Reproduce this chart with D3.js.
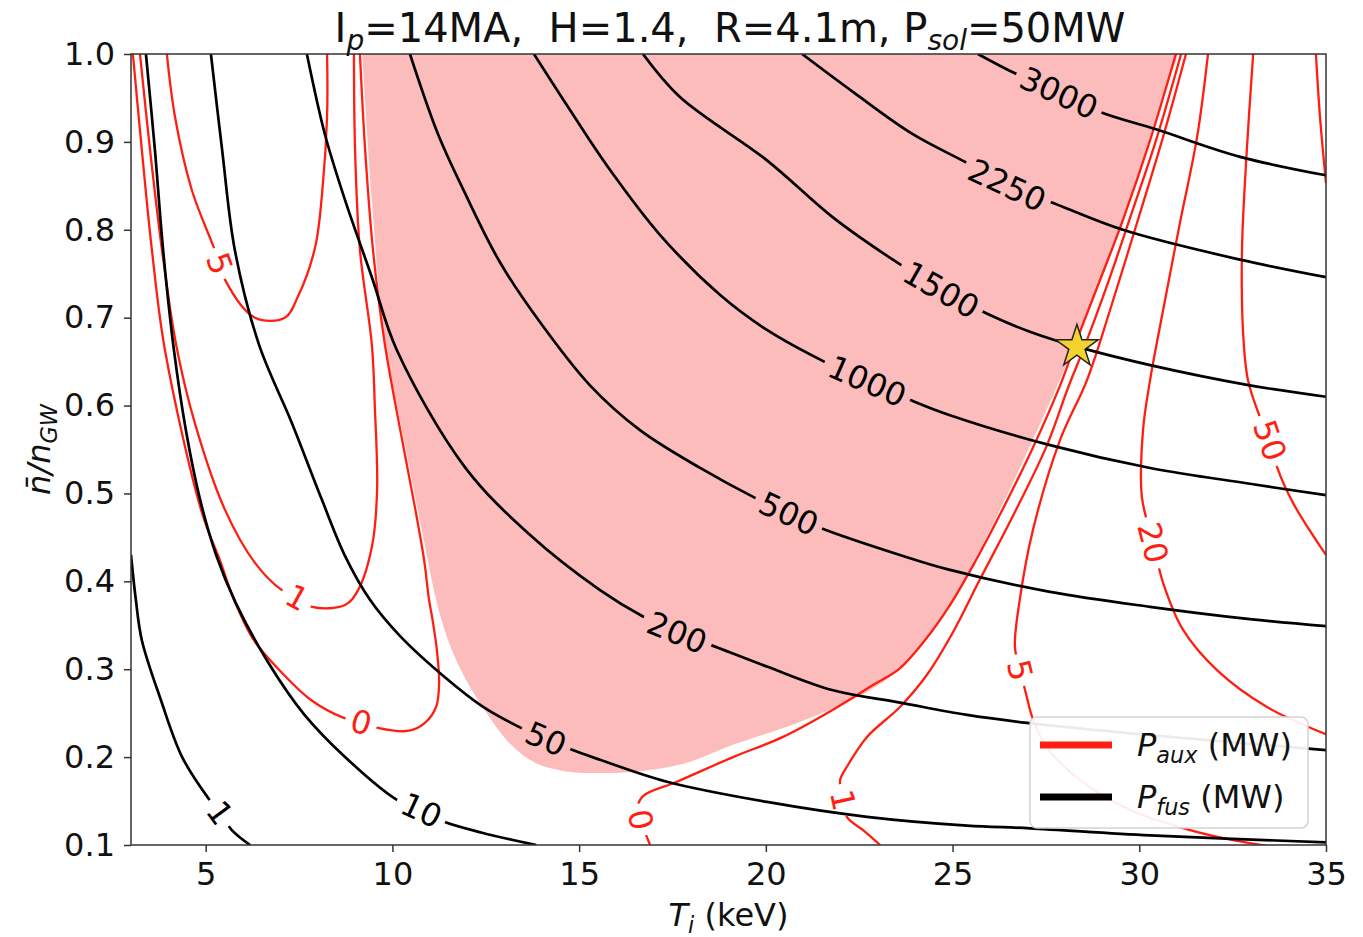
<!DOCTYPE html>
<html>
<head>
<meta charset="utf-8">
<script src="https://cdn.jsdelivr.net/npm/d3@7"></script>
<style>
body { margin: 0; background: #fff; }
text { font-family: "DejaVu Sans", sans-serif; }
</style>
</head>
<body>
<svg width="1363" height="937"></svg>
<script>
// ---- data (Ti in keV, n/nGW) ----
const xTicks = [5, 10, 15, 20, 25, 30, 35];
const yTicks = [0.1, 0.2, 0.3, 0.4, 0.5, 0.6, 0.7, 0.8, 0.9, 1.0];

// fusion power contours (MW)
const pfusLevels = ['1', '10', '50', '200', '500', '1000', '1500', '2250', '3000'];
const pfus1 = [[3.0,0.43],[3.13,0.379],[3.29,0.333],[3.80,0.265],[4.37,0.200],[5.04,0.155],[5.38,0.137],[5.70,0.117],[6.19,0.100]];
const pfus10 = [[3.40,1.0],[3.64,0.891],[3.86,0.777],[4.15,0.663],[4.47,0.572],[4.85,0.493],[5.28,0.430],[5.81,0.375],[6.67,0.308],[7.63,0.249],[8.76,0.199],[10.10,0.152],[10.77,0.140],[11.35,0.127],[12.40,0.114],[13.85,0.100]];
const pfus50 = [[5.14,1.0],[5.44,0.891],[5.78,0.777],[6.43,0.669],[7.31,0.580],[8.11,0.493],[8.73,0.429],[9.40,0.379],[10.20,0.338],[11.43,0.290],[12.40,0.258],[13.36,0.235],[14.11,0.221],[14.70,0.210],[15.56,0.197],[17.35,0.172],[20.03,0.149],[22.71,0.132],[25.39,0.122],[27.07,0.119],[30.29,0.111],[35.0,0.103]];
const pfus200 = [[7.71,1.0],[8.19,0.909],[8.73,0.834],[9.45,0.746],[10.12,0.663],[11.94,0.530],[13.68,0.453],[15.56,0.390],[16.71,0.360],[17.62,0.342],[18.50,0.328],[20.03,0.303],[21.80,0.276],[23.59,0.262],[25.39,0.248],[26.99,0.239],[30.29,0.225],[35.0,0.208]];
const pfus500 = [[10.47,1.0],[11.22,0.909],[11.94,0.842],[12.88,0.763],[13.95,0.695],[15.29,0.623],[16.63,0.572],[18.24,0.529],[19.71,0.495],[20.62,0.477],[21.45,0.461],[23.59,0.430],[24.93,0.413],[27.61,0.388],[30.29,0.371],[32.96,0.357],[35.0,0.349]];
const pfus1000 = [[13.79,1.0],[14.76,0.936],[15.83,0.868],[17.17,0.794],[18.77,0.726],[20.03,0.686],[21.56,0.650],[22.71,0.628],[23.89,0.606],[24.93,0.589],[27.61,0.555],[30.29,0.529],[32.96,0.511],[35.0,0.498]];
const pfus1500 = [[16.71,1.0],[17.70,0.951],[20.03,0.879],[21.77,0.815],[23.33,0.768],[24.69,0.732],[26.00,0.703],[27.07,0.684],[28.33,0.667],[30.29,0.646],[32.96,0.623],[35.0,0.610]];
const pfus2250 = [[20.97,1.0],[22.36,0.956],[23.89,0.910],[25.39,0.876],[26.46,0.851],[27.61,0.832],[29.56,0.800],[32.70,0.766],[35.0,0.746]];
const pfus3000 = [[25.68,1.0],[26.67,0.978],[27.85,0.956],[28.95,0.934],[30.47,0.914],[32.70,0.883],[35.0,0.862]];
const pfusLines = [pfus1, pfus10, pfus50, pfus200, pfus500, pfus1000, pfus1500, pfus2250, pfus3000];
const pfusLabelAt = [[5.38,0.137],[10.77,0.140],[14.11,0.221],[17.62,0.342],[20.62,0.477],[22.71,0.628],[24.69,0.732],[26.46,0.851],[27.85,0.956]];

// auxiliary power contours (MW)
const paux0Left = [[3.05,1.0],[3.29,0.891],[3.56,0.777],[3.91,0.663],[4.90,0.478],[5.38,0.424],[5.76,0.379],[6.29,0.333],[7.04,0.296],[7.82,0.265],[8.68,0.245],[9.16,0.240],[9.64,0.233],[10.44,0.230],[10.87,0.239],[11.17,0.257],[11.25,0.284],[11.19,0.322],[11.06,0.360],[10.98,0.379],[10.85,0.424],[10.60,0.485],[10.26,0.561],[9.80,0.669],[9.48,0.777],[9.27,0.891],[9.13,1.0]];
const paux1Left = [[3.24,1.0],[3.51,0.891],[3.83,0.777],[4.21,0.669],[4.71,0.580],[5.52,0.481],[6.32,0.421],[7.04,0.390],[7.45,0.382],[7.85,0.371],[8.73,0.373],[9.08,0.390],[9.45,0.439],[9.59,0.504],[9.53,0.598],[9.45,0.669],[9.13,0.777],[9.00,0.891],[8.97,1.0]];
const paux5Left = [[3.96,1.0],[4.18,0.928],[4.63,0.845],[5.17,0.785],[5.38,0.762],[5.52,0.743],[6.32,0.700],[7.12,0.700],[7.47,0.724],[7.93,0.780],[8.14,0.853],[8.25,0.928],[8.25,1.0]];
const paux0Right = [[16.90,0.100],[16.68,0.125],[16.58,0.145],[16.72,0.156],[17.62,0.172],[19.12,0.200],[20.46,0.223],[21.80,0.254],[22.87,0.282],[23.59,0.301],[24.26,0.333],[24.93,0.373],[25.60,0.422],[26.27,0.476],[27.15,0.552],[27.88,0.623],[28.33,0.675],[28.95,0.743],[29.56,0.811],[30.29,0.902],[30.98,1.0]];
const paux1Right = [[23.06,0.100],[22.66,0.115],[22.17,0.132],[22.07,0.151],[21.99,0.174],[22.17,0.189],[22.71,0.223],[23.59,0.257],[24.32,0.294],[25.01,0.342],[25.73,0.402],[26.54,0.468],[27.53,0.555],[28.09,0.620],[28.55,0.669],[29.14,0.737],[29.78,0.817],[30.45,0.902],[31.12,1.0]];
const paux5Right = [[31.25,1.0],[30.64,0.906],[29.94,0.808],[29.22,0.709],[28.60,0.629],[27.88,0.561],[27.15,0.458],[26.81,0.382],[26.67,0.325],[26.81,0.299],[26.99,0.268],[27.13,0.246],[27.48,0.214],[28.41,0.174],[29.75,0.140],[31.36,0.117],[32.96,0.102],[33.63,0.098]];
const paux20 = [[31.84,1.0],[31.55,0.906],[31.09,0.808],[30.64,0.709],[30.29,0.629],[30.10,0.572],[30.07,0.496],[30.37,0.444],[30.64,0.398],[31.17,0.345],[32.08,0.299],[33.42,0.257],[35.0,0.226]];
const paux50 = [[33.05,1.0],[32.88,0.891],[32.75,0.777],[32.78,0.683],[32.91,0.629],[33.23,0.587],[33.50,0.561],[33.69,0.530],[34.12,0.489],[35.0,0.430]];
const paux100 = [[34.73,1.0],[34.84,0.928],[35.0,0.853]];
const pauxLines = [paux0Left, paux1Left, paux5Left, paux0Right, paux1Right, paux5Right, paux20, paux50, paux100];
const pauxLabelText = ['0', '1', '5', '0', '1', '5', '20', '50', ''];
const pauxLabelAt = [[9.16,0.240],[7.45,0.382],[5.38,0.762],[16.62,0.129],[22.12,0.151],[26.81,0.299],[30.37,0.444],[33.50,0.561],null];

// shaded operating region edge
const regionEdge = [[9.19,1.0],[9.45,0.834],[9.80,0.669],[10.20,0.584],[10.52,0.515],[10.87,0.441],[11.17,0.379],[11.49,0.333],[11.92,0.292],[12.51,0.251],[13.18,0.214],[13.85,0.193],[14.78,0.183],[15.56,0.182],[16.63,0.184],[17.84,0.193],[19.12,0.214],[20.91,0.240],[22.71,0.274],[23.73,0.306],[24.53,0.347],[25.20,0.392],[26.00,0.458],[27.15,0.561],[28.33,0.675],[29.56,0.808],[30.29,0.906],[31.04,1.0]];

// design point
const designPoint = [28.33, 0.667];

// ---- chart ----
const svg = d3.select('svg');
svg.style('background-color', 'white');
const width = +svg.attr('width');
const height = +svg.attr('height');
const margin = {top: 54, right: 37, bottom: 92, left: 131};
const innerWidth = width - margin.left - margin.right;
const innerHeight = height - margin.top - margin.bottom;

const red = '#ff1e12';
const fs = 32;

const xScale = d3.scaleLinear().domain([3, 35]).range([0, innerWidth]);
const yScale = d3.scaleLinear().domain([0.1, 1.0]).range([innerHeight, 0]);

const line = d3.line()
    .x(d => xScale(d[0]))
    .y(d => yScale(d[1]))
    .curve(d3.curveCatmullRom.alpha(0.5));

const defs = svg.append('defs');
defs.append('clipPath').attr('id', 'plotClip')
    .append('rect').attr('width', innerWidth).attr('height', innerHeight);

const g = svg.append('g').attr('transform', `translate(${margin.left},${margin.top})`);
const plot = g.append('g').attr('clip-path', 'url(#plotClip)');

plot.append('path')
    .attr('d', line(regionEdge) + 'Z')
    .attr('fill', '#fcbcbc')
    .attr('stroke', 'none');

let maskId = 0;
const drawContour = (pts, color, lw, label, at) => {
    const path = plot.append('path')
        .attr('d', line(pts))
        .attr('fill', 'none')
        .attr('stroke', color)
        .attr('stroke-width', lw);
    if (!label || !at) return;
    const node = path.node();
    const L = node.getTotalLength();
    const tx = xScale(at[0]), ty = yScale(at[1]);
    let best = 0, bestD = Infinity;
    for (let s = 0; s <= L; s += 1) {
        const p = node.getPointAtLength(s);
        const d = (p.x - tx) ** 2 + (p.y - ty) ** 2;
        if (d < bestD) { bestD = d; best = s; }
    }
    const c = node.getPointAtLength(best);
    const a = node.getPointAtLength(Math.max(0, best - 20));
    const b = node.getPointAtLength(Math.min(L, best + 20));
    let ang = Math.atan2(b.y - a.y, b.x - a.x) * 180 / Math.PI;
    if (ang > 90) ang -= 180;
    if (ang < -90) ang += 180;

    const t = g.append('text')
        .attr('transform', `translate(${c.x},${c.y}) rotate(${ang})`)
        .attr('text-anchor', 'middle')
        .attr('dy', '0.36em')
        .attr('font-size', fs)
        .attr('fill', color)
        .text(label);
    const w = t.node().getComputedTextLength() + 12;

    const id = 'lblmask' + (maskId++);
    const m = defs.append('mask').attr('id', id).attr('maskUnits', 'userSpaceOnUse')
        .attr('x', -50).attr('y', -50).attr('width', innerWidth + 100).attr('height', innerHeight + 100);
    m.append('rect').attr('x', -50).attr('y', -50)
        .attr('width', innerWidth + 100).attr('height', innerHeight + 100).attr('fill', 'white');
    m.append('rect')
        .attr('x', -w / 2).attr('y', -fs * 0.45)
        .attr('width', w).attr('height', fs * 0.9)
        .attr('transform', `translate(${c.x},${c.y}) rotate(${ang})`)
        .attr('fill', 'black');
    path.attr('mask', `url(#${id})`);
};

pauxLines.forEach((pts, i) => drawContour(pts, red, 2.3, pauxLabelText[i], pauxLabelAt[i]));
pfusLines.forEach((pts, i) => drawContour(pts, 'black', 2.7, pfusLevels[i], pfusLabelAt[i]));

// design point star
g.append('path')
    .attr('d', d3.symbol().type(d3.symbolStar).size(560)())
    .attr('transform', `translate(${xScale(designPoint[0])},${yScale(designPoint[1])})`)
    .attr('fill', '#f5d22e')
    .attr('stroke', '#222')
    .attr('stroke-width', 1.5);

// axes
const xAxis = g.append('g')
    .attr('transform', `translate(0,${innerHeight})`)
    .call(d3.axisBottom(xScale).tickValues(xTicks).tickSize(7).tickPadding(10));
const yAxis = g.append('g')
    .call(d3.axisLeft(yScale).tickValues(yTicks).tickSize(7).tickPadding(9).tickFormat(d3.format('.1f')));
[xAxis, yAxis].forEach(ax => {
    ax.select('.domain').remove();
    ax.selectAll('line').attr('stroke', '#333').attr('stroke-width', 1.5);
    ax.selectAll('text').attr('font-size', fs).attr('fill', '#111')
        .attr('font-family', '"DejaVu Sans", sans-serif');
});

g.append('rect')
    .attr('width', innerWidth).attr('height', innerHeight)
    .attr('fill', 'none').attr('stroke', '#333').attr('stroke-width', 1.5);

// legend
const lg = svg.append('g');
lg.append('rect')
    .attr('x', 1030).attr('y', 717).attr('width', 278).attr('height', 111).attr('rx', 7)
    .attr('fill', 'white').attr('fill-opacity', 0.92)
    .attr('stroke', '#d4d4d4').attr('stroke-width', 1.5);
const legendItems = [{color: red, sub: 'aux'}, {color: 'black', sub: 'fus'}];
legendItems.forEach((d, i) => {
    const y = 745 + i * 52;
    lg.append('line').attr('x1', 1040).attr('x2', 1112).attr('y1', y).attr('y2', y)
        .attr('stroke', d.color).attr('stroke-width', 7);
    const t = lg.append('text').attr('x', 1137).attr('y', y + 11).attr('font-size', fs).attr('fill', '#111')
        .style('white-space', 'pre');
    t.append('tspan').attr('font-style', 'italic').text('P');
    t.append('tspan').attr('font-style', 'italic').attr('font-size', fs * 0.7).attr('dy', 7).text(d.sub);
    t.append('tspan').attr('dy', -7).text(' (MW)');
});

// title
const title = svg.append('text')
    .attr('x', 730).attr('y', 42).attr('text-anchor', 'middle')
    .attr('font-size', 40).attr('fill', '#111').style('white-space', 'pre');
title.append('tspan').text('I');
title.append('tspan').attr('font-style', 'italic').attr('font-size', 28).attr('dy', 8).text('p');
title.append('tspan').attr('dy', -8).text('=14MA,  H=1.4,  R=4.1m, P');
title.append('tspan').attr('font-style', 'italic').attr('font-size', 28).attr('dy', 8).text('sol');
title.append('tspan').attr('dy', -8).text('=50MW');

// axis labels
const xl = svg.append('text')
    .attr('x', margin.left + innerWidth / 2).attr('y', 926).attr('text-anchor', 'middle')
    .attr('font-size', fs).attr('fill', '#111').style('white-space', 'pre');
xl.append('tspan').attr('font-style', 'italic').text('T');
xl.append('tspan').attr('font-style', 'italic').attr('font-size', fs * 0.7).attr('dy', 7).text('i');
xl.append('tspan').attr('dy', -7).text(' (keV)');

const yl = svg.append('text')
    .attr('transform', `translate(50,${margin.top + innerHeight / 2}) rotate(-90)`)
    .attr('text-anchor', 'middle')
    .attr('font-size', fs).attr('fill', '#111');
yl.append('tspan').attr('font-style', 'italic').text('n\u0304/n');
yl.append('tspan').attr('font-style', 'italic').attr('font-size', fs * 0.7).attr('dy', 7).text('GW');
</script>
</body>
</html>
